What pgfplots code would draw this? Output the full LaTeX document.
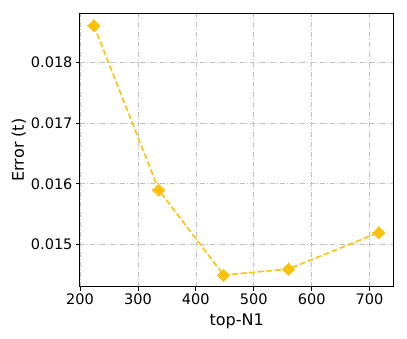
\documentclass[border=0pt]{standalone}
\usepackage{pgfplots}
\pgfplotsset{compat=1.18}
\usepackage{fontspec}
\setmainfont{DejaVu Sans}
\definecolor{amber}{RGB}{255,193,7}
\begin{document}
\begin{tikzpicture}[x=1pt,y=1pt]
\useasboundingbox (-80,-52.3) rectangle (327,286.7);
\begin{axis}[
  at={(0,0)}, anchor=south west,
  scale only axis, width=313.3pt, height=273.4pt,
  xmin=200, xmax=741, ymin=0.01431, ymax=0.0188,
  xtick={200,300,400,500,600,700},
  ytick={0.015,0.016,0.017,0.018},
  scaled y ticks=false,
  yticklabel style={/pgf/number format/.cd, fixed, precision=3, zerofill},
  /pgf/number format/assume math mode=true,
  tick label style={font=\fontsize{14.5}{16}\selectfont},
  label style={font=\fontsize{16}{18}\selectfont},
  xlabel={top-N1}, ylabel={Error (t)},
  xlabel style={yshift=-2pt},
  ylabel style={yshift=-2pt},
  axis line style={black, line width=1pt},
  tick align=outside, tick pos=left,
  major tick length=4pt,
  tick style={black, line width=0.8pt},
  grid=major,
  major grid style={gray!50, line width=0.6pt, dash pattern=on 5pt off 2pt on 1pt off 2pt},
]
\addplot[amber, line width=1.6pt, dash pattern=on 6pt off 2.6pt, mark=square*, mark size=4.3pt, mark options={solid, rotate=45, fill=amber, draw=amber, line width=0pt}]
coordinates {(224,0.0186) (336,0.0159) (448,0.0145) (560,0.0146) (716,0.0152)};
\end{axis}
\end{tikzpicture}
\end{document}
